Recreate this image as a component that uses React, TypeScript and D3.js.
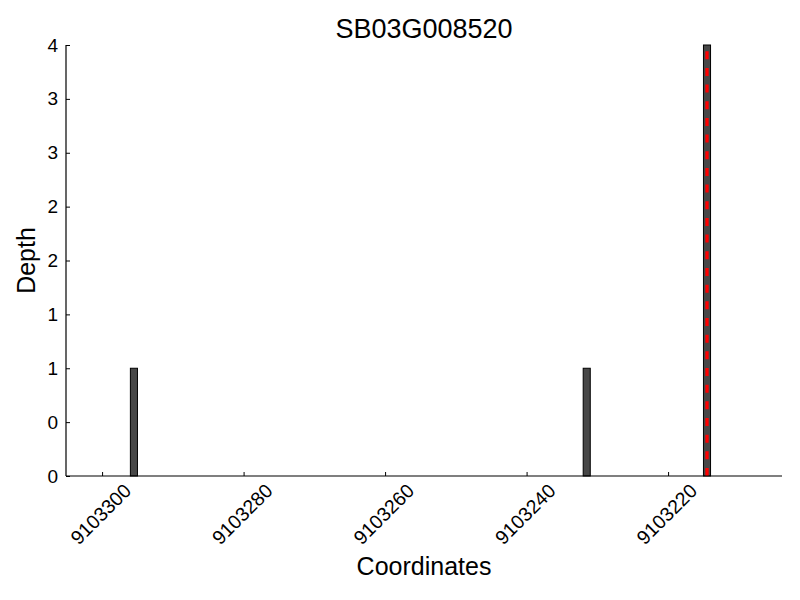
import React, { useEffect, useRef } from 'react';
import * as d3 from 'd3';

const title = 'SB03G008520';
const positions = [9103296, 9103232, 9103215];
const depths = [1, 1, 4];
const markerPos = 9103215;
const xTicks = [9103300, 9103280, 9103260, 9103240, 9103220];
const yTicks = [0, 0.5, 1, 1.5, 2, 2.5, 3, 3.5, 4];

const App: React.FC = () => {
    const svgRef = useRef<SVGSVGElement | null>(null);

    useEffect(() => {
        const svg = d3.select(svgRef.current);
        const width = 800;
        const height = 600;
        const margin = { top: 45, right: 18, bottom: 124, left: 66 };
        const font = '"Liberation Sans", Arial, sans-serif';

        svg.selectAll('*').remove();

        // eje x invertido
        const x = d3
            .scaleLinear()
            .domain([9103305.1, 9103203.9])
            .range([margin.left, width - margin.right]);

        const y = d3
            .scaleLinear()
            .domain([0, 4])
            .range([height - margin.bottom, margin.top]);

        // barras
        svg
            .append('g')
            .selectAll('rect')
            .data(positions.map((p, i) => ({ p, d: depths[i] })))
            .join('rect')
            .attr('x', d => x(d.p))
            .attr('y', d => y(d.d))
            .attr('width', d => x(d.p - 1) - x(d.p))
            .attr('height', d => y(0) - y(d.d))
            .attr('fill', '#474747')
            .attr('stroke', '#000')
            .attr('stroke-width', 1);

        // línea roja discontinua (desde abajo)
        svg
            .append('line')
            .attr('x1', x(markerPos - 0.5))
            .attr('x2', x(markerPos - 0.5))
            .attr('y1', y(0))
            .attr('y2', y(4))
            .attr('stroke', '#ff0000')
            .attr('stroke-width', 3.3)
            .attr('stroke-dasharray', '8,8.67');

        // eje x
        const gx = svg
            .append('g')
            .attr('transform', `translate(0,${y(0)})`)
            .call(
                d3
                    .axisBottom(x)
                    .tickValues(xTicks)
                    .tickSize(-4)
                    .tickFormat(d => String(d))
            );
        gx.select('.domain').attr('d', `M${margin.left},0H${width - margin.right}`).attr('stroke-width', 1.2);
        gx.selectAll('text')
            .attr('font-family', font)
            .attr('font-size', 19.5)
            .attr('fill', '#000')
            .attr('text-anchor', 'middle')
            .attr('dy', null)
            .attr('dominant-baseline', 'central')
            .attr('y', 0)
            .attr('transform', 'translate(-2,38) rotate(-45)');

        // eje y
        const gy = svg
            .append('g')
            .attr('transform', `translate(${margin.left},0)`)
            .call(
                d3
                    .axisLeft(y)
                    .tickValues(yTicks)
                    .tickSize(-4)
                    .tickPadding(8)
                    .tickFormat(d => String(Math.floor(+d)))
            );
        gy.select('.domain').attr('d', `M0,${y(0)}V${y(4)}`).attr('stroke-width', 1.2);
        gy.selectAll('text')
            .attr('font-family', font)
            .attr('font-size', 19)
            .attr('fill', '#000');

        // títulos
        svg
            .append('text')
            .attr('x', (margin.left + width - margin.right) / 2)
            .attr('y', 38)
            .attr('text-anchor', 'middle')
            .attr('font-family', font)
            .attr('font-size', 27)
            .text(title);

        svg
            .append('text')
            .attr('x', (margin.left + width - margin.right) / 2)
            .attr('y', 575)
            .attr('text-anchor', 'middle')
            .attr('font-family', font)
            .attr('font-size', 25)
            .text('Coordinates');

        svg
            .append('text')
            .attr('transform', `translate(35,${(y(0) + y(4)) / 2}) rotate(-90)`)
            .attr('text-anchor', 'middle')
            .attr('font-family', font)
            .attr('font-size', 25)
            .text('Depth');
    }, []);

    return (
        <svg
            ref={svgRef}
            width={800}
            height={600}
            style={{ position: 'absolute', left: 0, top: 0, background: '#fff' }}
        ></svg>
    );
};

export default App;
